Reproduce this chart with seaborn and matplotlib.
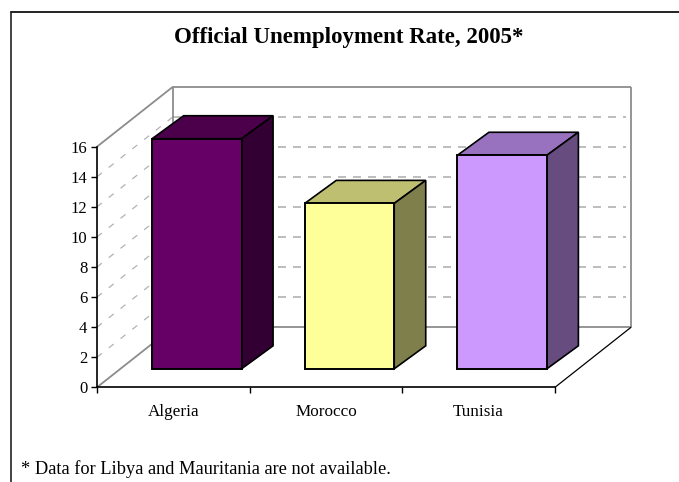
import matplotlib
matplotlib.use("Agg")
import matplotlib.pyplot as plt
from matplotlib.patches import Polygon
from matplotlib.transforms import Affine2D, IdentityTransform
import pandas as pd
import seaborn as sns

# data
countries = ["Algeria", "Morocco", "Tunisia"]
rates = [15.3, 11.0, 14.2]
y_ticks = [0, 2, 4, 6, 8, 10, 12, 14, 16]

front_colors = ["#660066", "#FFFF99", "#CC99FF"]
top_colors = ["#4C004C", "#BFBF72", "#9972BF"]
side_colors = ["#330033", "#7F7F4C", "#664C7F"]

W, H = 679, 482
AX_L, AX_R, AX_TOP, AX_BOT = 97, 555, 146.7, 387.3  # pixels from top left
WALL_DX, WALL_DY = 76, 60     # depth of the floor
BAR_DX, BAR_DY = 23.5, 18.5   # how far the bars stand from the front edge
DEPTH_DX, DEPTH_DY = 31.5, 23 # depth of a bar
GRID = "#b2b2b2"
WALL = "#8c8c8c"

sns.set_theme(style="white")
plt.rcParams["font.family"] = ["Liberation Serif", "DejaVu Serif"]

fig = plt.figure(figsize=(W / 100, H / 100), dpi=100)
ax = fig.add_axes([AX_L / W, 1 - AX_BOT / H, (AX_R - AX_L) / W, (AX_BOT - AX_TOP) / H])

df = pd.DataFrame({"country": countries, "rate": rates})
sns.barplot(data=df, x="country", y="rate", hue="country", palette=front_colors,
            legend=False, width=0.586, saturation=1, edgecolor="black", linewidth=1.4, ax=ax, zorder=5)
ax.set_xlim(-0.5, 2.5)
ax.set_ylim(0, 16)
ax.set_xlabel("")
ax.set_ylabel("")
fig.canvas.draw()


def px(x, y, dx=0, dy=0):
    # data point to screen pixels, pushed back by dx, dy
    p = ax.transData.transform((x, y))
    return p[0] + dx, p[1] + dy


def line(a, b, **kw):
    ax.plot([a[0], b[0]], [a[1], b[1]], transform=IdentityTransform(), clip_on=False, **kw)


# walls and floor
xl, xr = -0.5, 2.5
top = y_ticks[-1]
wall_kw = dict(color=WALL, lw=1.3, zorder=2, solid_capstyle="butt")
line(px(xl, 0), px(xl, 0, WALL_DX, WALL_DY), **wall_kw)
line(px(xl, top), px(xl, top, WALL_DX, WALL_DY), **wall_kw)
line(px(xl, 0, WALL_DX, WALL_DY), px(xl, top, WALL_DX, WALL_DY), **wall_kw)
line(px(xr, 0, WALL_DX, WALL_DY), px(xr, top, WALL_DX, WALL_DY), **wall_kw)
line(px(xl, top, WALL_DX, WALL_DY), px(xr, top, WALL_DX, WALL_DY), **wall_kw)
line(px(xl, 0, WALL_DX, WALL_DY), px(xr, 0, WALL_DX, WALL_DY), **wall_kw)
line(px(xr, 0), px(xr, 0, WALL_DX, WALL_DY), color="black", lw=0.9, zorder=2)

# dashed gridlines on the left and back walls
for t in y_ticks[1:-1]:
    line(px(xl, t), px(xl, t, WALL_DX, WALL_DY), color=GRID, lw=0.9, dashes=(5, 7), zorder=1)
    line(px(xl, t, WALL_DX, WALL_DY), px(xr, t, WALL_DX - 5, WALL_DY), color=GRID, lw=1.2,
         dashes=(4.8, 4.2), zorder=1)

# move the seaborn bars back and add their top and side faces
shift = Affine2D().translate(BAR_DX, BAR_DY)
for i, bar in enumerate(ax.patches):
    bar.set_transform(ax.transData + shift)
    bar.set_clip_on(False)
    x0, x1 = bar.get_x(), bar.get_x() + bar.get_width()
    h = bar.get_height()
    a = px(x0, h, BAR_DX, BAR_DY)
    b = px(x1, h, BAR_DX, BAR_DY)
    c = px(x1, 0, BAR_DX, BAR_DY)
    back = lambda p: (p[0] + DEPTH_DX, p[1] + DEPTH_DY)
    for pts, col in [([a, b, back(b), back(a)], top_colors[i]),
                     ([b, c, back(c), back(b)], side_colors[i])]:
        ax.add_patch(Polygon(pts, closed=True, facecolor=col, edgecolor="black", lw=1.2,
                             transform=IdentityTransform(), clip_on=False, zorder=4, joinstyle="miter"))

# axes
for s in ["top", "right"]:
    ax.spines[s].set_visible(False)
for s in ["left", "bottom"]:
    ax.spines[s].set_visible(True)
    ax.spines[s].set_color("black")
    ax.spines[s].set_linewidth(1.2)
    ax.spines[s].set_zorder(6)
ax.set_yticks(y_ticks)
ax.set_xticks([-0.5, 0.5, 1.5, 2.5], minor=True)
ax.set_xticks(range(len(countries)), countries)
ax.tick_params(axis="x", which="major", length=0, pad=12, labelsize=12.3, colors="black")
ax.tick_params(axis="x", which="minor", bottom=True, length=4, width=1, color="black")
ax.tick_params(axis="y", left=True, length=4, width=1, color="black", pad=3, labelsize=12, labelcolor="black")
ax.patch.set_alpha(0)

# outer frame, open at the right and bottom
fig.add_artist(plt.Line2D([10.5 / W, 10.5 / W], [0, 1 - 11.5 / H], color="#222222", lw=1.2))
fig.add_artist(plt.Line2D([10.5 / W, 1], [1 - 11.5 / H, 1 - 11.5 / H], color="#222222", lw=1.4))

fig.text(349 / W, 1 - 37 / H, "Official Unemployment Rate, 2005*", ha="center", va="center",
         fontsize=16.5, fontweight="bold", color="black")
fig.text(21 / W, 1 - 469 / H, "* Data for Libya and Mauritania are not available.", ha="left", va="center",
         fontsize=13.2, color="black")

fig.savefig("out.png", dpi=100, facecolor="white")
